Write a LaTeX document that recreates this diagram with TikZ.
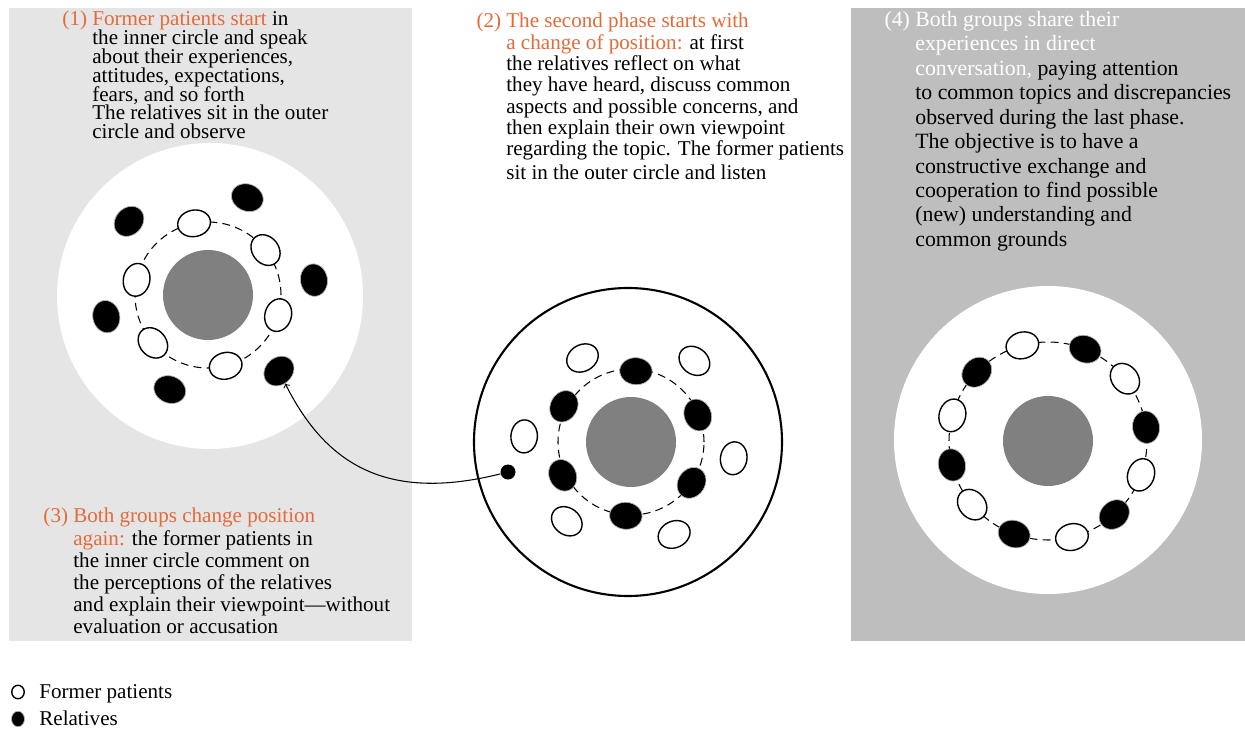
\documentclass[tikz,border=0pt]{standalone}
\usepackage{fontspec}
\setmainfont{Liberation Serif}
\usetikzlibrary{shapes.geometric,positioning}

\definecolor{phaseorange}{RGB}{228,106,58}
\definecolor{panelgray}{RGB}{229,229,229}
\definecolor{paneldark}{RGB}{190,190,190}
\definecolor{centregray}{RGB}{128,128,128}

\newcommand{\tightlines}{\setlength{\lineskiplimit}{-6pt}}

\tikzset{
  patient/.style={ellipse, draw=black, fill=white, line width=0.8pt,
    minimum width=0.66cm, minimum height=0.53cm, inner sep=0pt},
  relative/.style={ellipse, draw=gray!60, fill=black, line width=0.4pt,
    minimum width=0.65cm, minimum height=0.54cm, inner sep=0pt},
  ring/.style={dash pattern=on 4.5pt off 3pt, line width=0.6pt},
  phasetext/.style={anchor=north west, align=left, inner sep=0pt},
}

\begin{document}
\begin{tikzpicture}[x=0.02cm, y=0.02cm]
\useasboundingbox (0,0) rectangle (1245,-730);

% Panels:
\fill[panelgray] (9,-8) rectangle (412,-641);
\fill[paneldark] (851,-8) rectangle (1245,-641);

% Phase 1 and 3 (left):
\fill[white] (210,-296) circle (153);
\begin{scope}[shift={(208,-295)}]
  \fill[centregray] (0,0) circle (45);
  \draw[ring] (0,0) circle (73);
  \foreach \a [count=\i] in {101,38,-16,-76,-139,168}
    \node[patient, rotate=\a-90] (patA\i) at (\a:73) {};
  \foreach \a/\r [count=\i] in {137/108,68/105,8/107,-47/104,-112/102,-168/104}
    \node[relative, rotate=\a-90] (relA\i) at (\a:\r) {};
\end{scope}

% Phase 2 (middle):
\draw[line width=1.2pt] (628,-442) circle (154);
\begin{scope}[shift={(631,-442)}]
  \fill[centregray] (0,0) circle (45);
  \draw[ring] (0,0) circle (73);
  \foreach \a/\r [count=\i] in {86/71,22/72,-34/73,-94/74,-154/76,152/76}
    \node[relative, rotate=\a-90] (relB\i) at (\a:\r) {};
  \foreach \a/\r [count=\i] in {120/97,52/103,-9/104,-65/102,-129/102,177/107}
    \node[patient, rotate=\a-90] (patB\i) at (\a:\r) {};
\end{scope}
\node[circle, fill=black, minimum size=0.3cm, inner sep=0pt] (switch) at (508,-472) {};
\draw[->, line width=0.6pt] (switch) to[out=194, in=-58, looseness=1.15] (relA4);

% Phase 4 (right):
\fill[white] (1048,-440) circle (154);
\begin{scope}[shift={(1048,-441)}]
  \fill[centregray] (0,0) circle (45);
  \draw[ring] (0,0) circle (99);
  \foreach \a/\kind [count=\i] in {105/patient,68/relative,39/patient,8/relative,
      -20/patient,-48/relative,-76/patient,-110/relative,-140/patient,
      -166/relative,165/patient,136/relative}
    \node[\kind, rotate=\a-90] (mixC\i) at (\a:99) {};
\end{scope}

% Texts:
\node[phasetext, font={\fontsize{12}{10.7}\selectfont\tightlines}] (phaseone) at (92,-11)
  {\llap{\textcolor{phaseorange}{(1) }}\textcolor{phaseorange}{Former patients start} in\\
   the inner circle and speak\\
   about their experiences,\\
   attitudes, expectations,\\
   fears, and so forth\\
   The relatives sit in the outer\\
   circle and observe};
\node[phasetext, font=\fontsize{12}{12.1}\selectfont] (phasetwo) at (506,-13)
  {\llap{\textcolor{phaseorange}{(2) }}\textcolor{phaseorange}{The second phase starts with}\\
   \textcolor{phaseorange}{a change of position:} at first\\
   the relatives reflect on what\\
   they have heard, discuss common\\
   aspects and possible concerns, and\\
   then explain their own viewpoint\\
   regarding the topic. The former patients\\[1.5pt]
   sit in the outer circle and listen};
\node[phasetext, font=\fontsize{12}{12.6}\selectfont] (phasethree) at (73,-508)
  {\llap{\textcolor{phaseorange}{(3) }}\textcolor{phaseorange}{Both groups change position}\\
   \textcolor{phaseorange}{again:} the former patients in\\
   the inner circle comment on\\
   the perceptions of the relatives\\
   and explain their viewpoint---without\\
   evaluation or accusation};
\node[phasetext, font=\fontsize{12.4}{13.9}\selectfont] (phasefour) at (915,-11)
  {\llap{\textcolor{white}{(4) }}\textcolor{white}{Both groups share their}\\
   \textcolor{white}{experiences in direct}\\
   \textcolor{white}{conversation,} paying attention\\
   to common topics and discrepancies\\
   observed during the last phase.\\
   The objective is to have a\\
   constructive exchange and\\
   cooperation to find possible\\
   (new) understanding and\\
   common grounds};

% Legend:
\node[patient, minimum width=0.25cm, minimum height=0.27cm] (legpat) at (18,-692) {};
\node[relative, minimum width=0.26cm, minimum height=0.31cm] (legrel) at (18,-719) {};
\node[anchor=base west, inner sep=0pt, font=\fontsize{12}{14}\selectfont] (legpattext) at (39,-698) {Former patients};
\node[anchor=base west, inner sep=0pt, font=\fontsize{12}{14}\selectfont] (legreltext) at (39,-725) {Relatives};

\end{tikzpicture}
\end{document}
